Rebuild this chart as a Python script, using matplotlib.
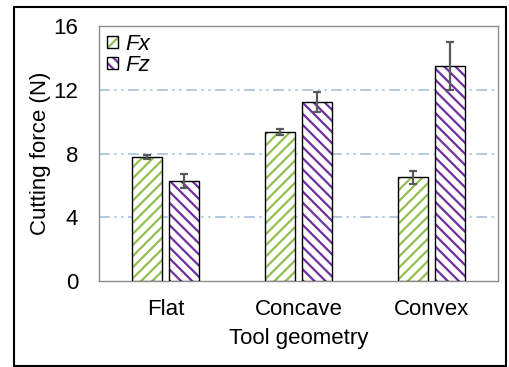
import numpy as np
import matplotlib.pyplot as plt
from matplotlib.patches import Rectangle

# Datos
geometrias = ['Flat', 'Concave', 'Convex']
fx = [7.78, 9.33, 6.5]
fx_err = [0.12, 0.2, 0.42]
fz = [6.27, 11.23, 13.49]
fz_err = [0.42, 0.63, 1.5]

plt.rcParams['font.family'] = ['Liberation Sans', 'DejaVu Sans']
plt.rcParams['hatch.linewidth'] = 1.6

fig = plt.figure(figsize=(5.09, 3.67), dpi=100)
ax = fig.add_axes([99/509, 1-281/367, 399/509, 255/367])

x = np.arange(len(geometrias))
w = 0.232
off = 0.139

b1 = ax.bar(x - off, fx, w, facecolor='white', edgecolor='black', linewidth=1.0,
            hatch='///', label='Fx', zorder=3)
for b in b1:
    b._hatch_color = (0x92/255, 0xc0/255, 0x50/255, 1)
b2 = ax.bar(x + off, fz, w, facecolor='white', edgecolor='black', linewidth=1.0,
            hatch='\\\\\\', label='Fz', zorder=3)
for b in b2:
    b._hatch_color = (0x70/255, 0x30/255, 0xa0/255, 1)

ax.errorbar(x - off, fx, yerr=fx_err, fmt='none', ecolor='#595959', elinewidth=1.6,
            capsize=3, capthick=1.6, zorder=4)
ax.errorbar(x + off, fz, yerr=fz_err, fmt='none', ecolor='#595959', elinewidth=1.6,
            capsize=3, capthick=1.6, zorder=4)

ax.set_xlim(-0.5, 2.5)
ax.set_ylim(0, 16)
ax.set_yticks([0, 4, 8, 12, 16])
ax.set_xticks(x)
ax.set_xticklabels(geometrias)
ax.tick_params(length=0, labelsize=16, colors='black')
ax.tick_params(axis='y', pad=15)
ax.tick_params(axis='x', pad=13)
for g in [4, 8, 12]:
    ax.axhline(g, color='#9dbad8', linewidth=1.1, dashes=[7, 3, 1.5, 3, 1.5, 3], zorder=1)
for s in ax.spines.values():
    s.set_color('#8c8c8c')
    s.set_linewidth(1.0)

ax.set_ylabel('Cutting force (N)', fontsize=16, labelpad=2)
ax.set_xlabel('Tool geometry', fontsize=16, labelpad=6)

leg = ax.legend(loc='upper left', frameon=False, prop={'style': 'italic', 'size': 16},
                handlelength=0.5, handleheight=0.5, handletextpad=0.35, borderaxespad=0.0,
                borderpad=0.35, labelspacing=0.0)

# Borde exterior
fig.patches.append(Rectangle((14/509, 1/367), 492/509, 359/367, transform=fig.transFigure,
                             fill=False, edgecolor='black', linewidth=1.5))

fig.savefig('out.png', dpi=100)
